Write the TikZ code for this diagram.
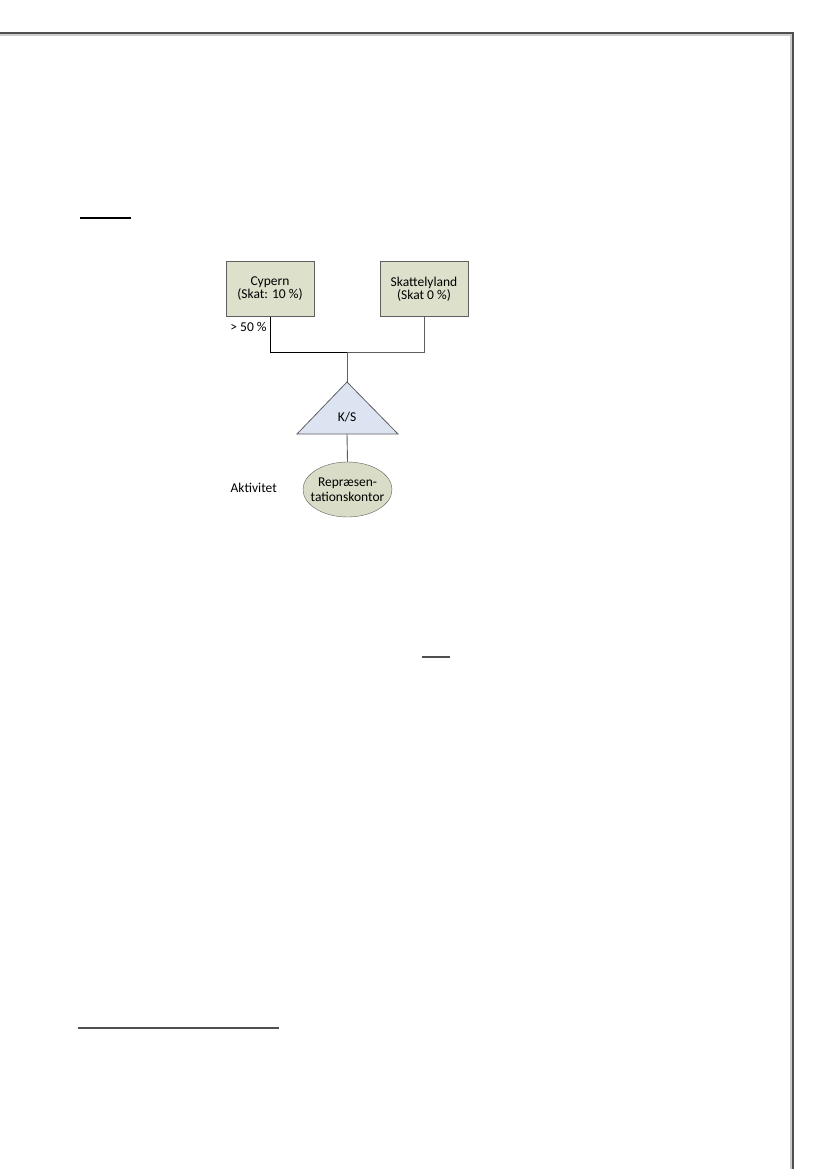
\documentclass[tikz,border=0pt]{standalone}
\usepackage{fontspec}
\setmainfont{Carlito}
\usepackage{xcolor}
\usetikzlibrary{shapes.geometric}

\definecolor{landfill}{RGB}{221,224,203}
\definecolor{ksfill}{RGB}{220,228,242}
\definecolor{kontorfill}{RGB}{217,220,199}
\definecolor{edgegray}{RGB}{95,95,95}
\definecolor{framegray}{RGB}{80,80,80}

\tikzset{
  land/.style={draw=edgegray, fill=landfill, minimum width=88pt, minimum height=55pt,
    inner sep=0pt, align=center, font=\fontsize{13.5}{13}\selectfont},
  kontor/.style={ellipse, draw=edgegray, fill=kontorfill, minimum width=89pt,
    minimum height=55pt, inner sep=0pt},
  lbl/.style={inner sep=0pt, align=center, font=\fontsize{13.5}{13}\selectfont},
  link/.style={draw=edgegray, line width=0.9pt}
}

\begin{document}
\begin{tikzpicture}[x=1pt, y=-1pt]
    \useasboundingbox (0,0) rectangle (827,1169);
    % Sideramme
    \draw[gray!40, line width=1.2pt] (0,35) -- (791,35) -- (791,1169);
    \draw[framegray, line width=1.4pt] (0,33) -- (793,33) -- (793,1169);
    % Streger i teksten
    \draw[black, line width=1.2pt] (80,218) -- (131,218);
    \draw[framegray, line width=1.2pt] (422,657) -- (450,657);
    \draw[framegray, line width=1.6pt] (78,1028) -- (279,1028);
    % Ejere
    \node[land] (cypern) at (270,289) {Cypern\\(Skat: 10 \%)};
    \node[land] (skattely) at (424,289) {Skattelyland\\(Skat 0 \%)};
    \node[lbl] (andel) at (248.5,327) {> 50 \%};
    % K/S
    \coordinate (samling) at (347,352);
    \coordinate (top) at (347,382);
    \coordinate (venstre) at (297,434);
    \coordinate (hoejre) at (398,434);
    \coordinate (bund) at (347,434);
    \draw[draw=edgegray, fill=ksfill, line width=0.8pt] (top) -- (hoejre) -- (venstre) -- cycle;
    \node[lbl] (ks) at (347,417) {K/S};
    % Aktivitet
    \node[kontor] (rep) at (347.5,489.5) {};
    \node[lbl, font=\fontsize{13.5}{15}\selectfont] (reptekst) at (rep.center) {Repræsen-\\tationskontor};
    \node[lbl] (aktivitet) at (253.7,488) {Aktivitet};
    % Forbindelser
    \draw[black, line width=1pt] (cypern.south) |- (samling);
    \draw[link] (skattely.south) |- (samling);
    \draw[link] (samling) -- (top);
    \draw[link] (bund) -- (rep.north);
\end{tikzpicture}
\end{document}
